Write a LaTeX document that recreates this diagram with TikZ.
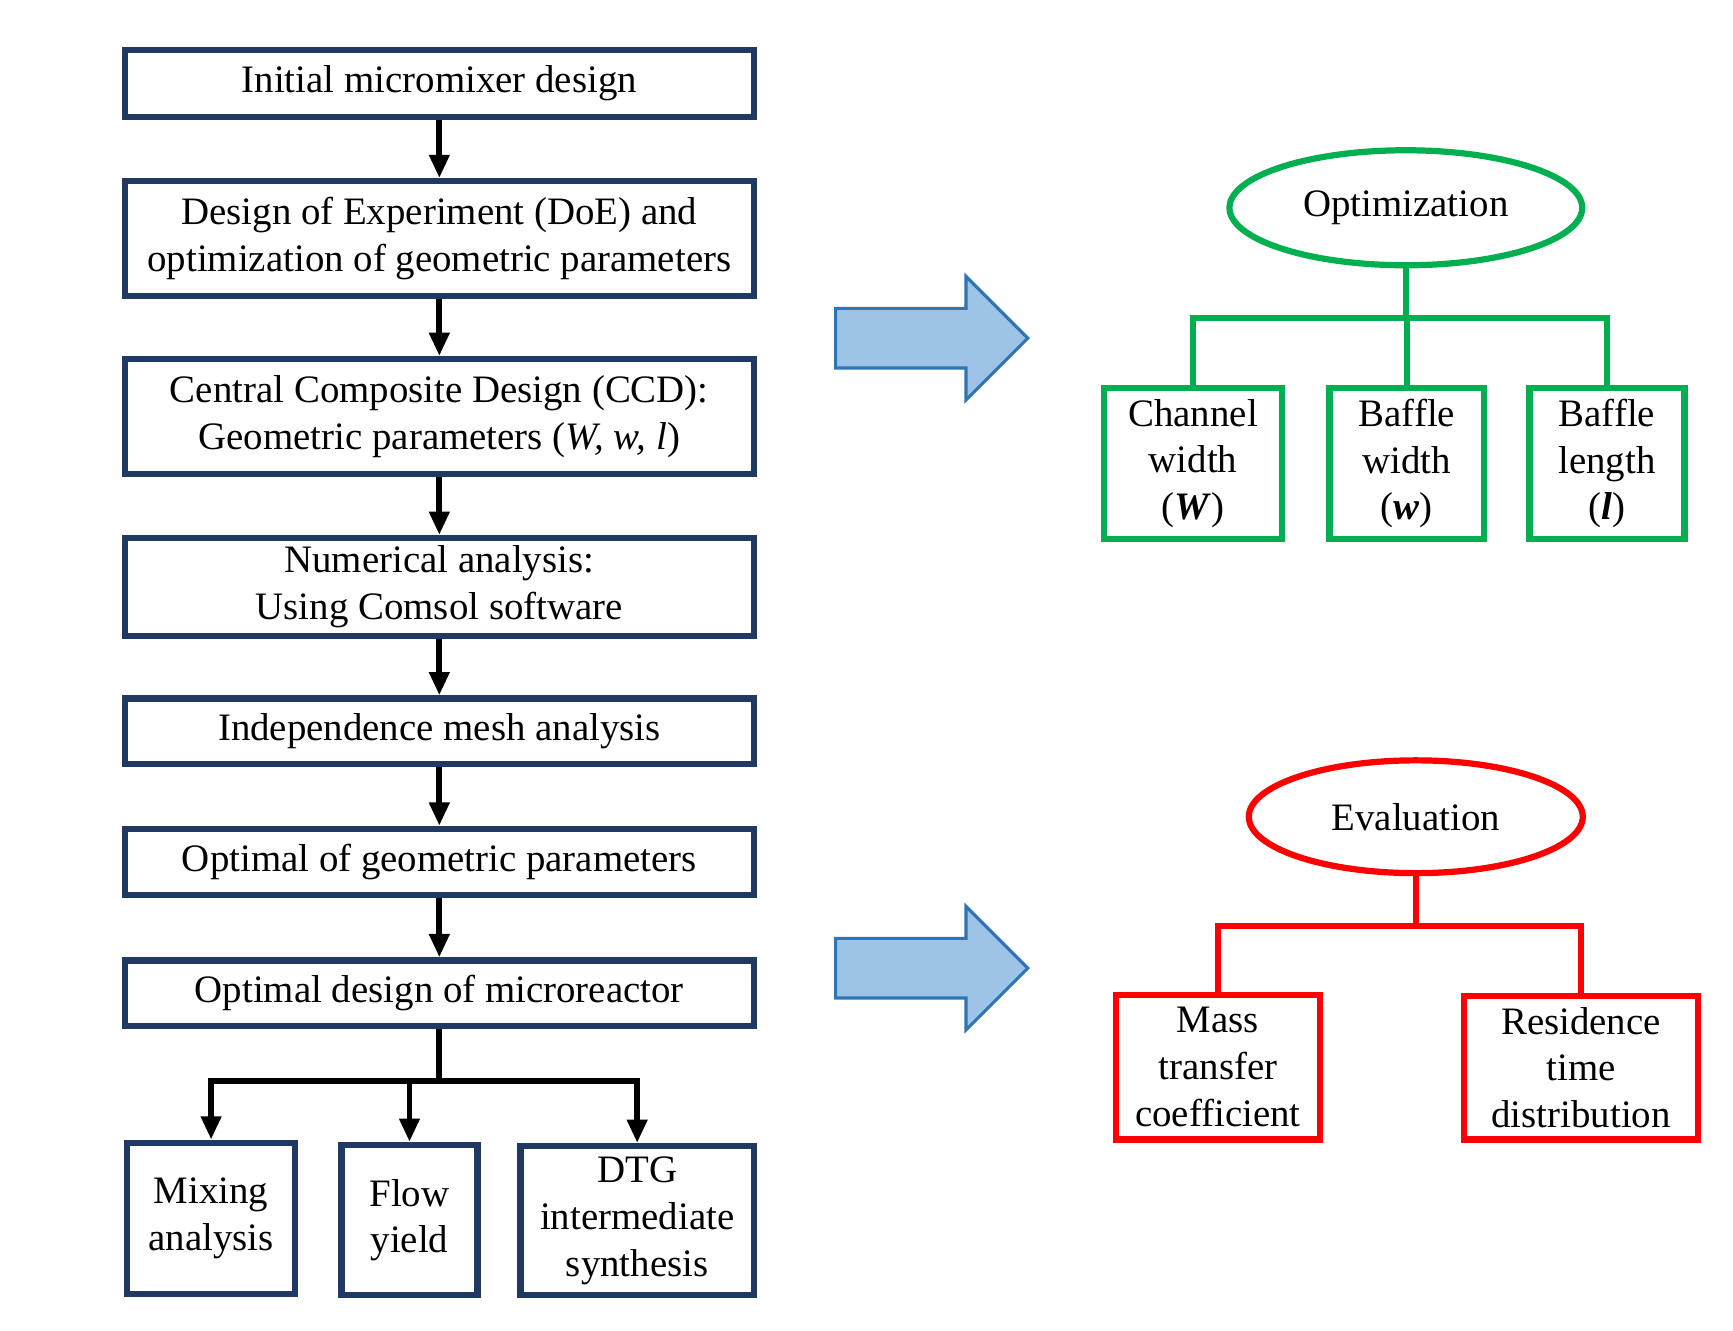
\documentclass[tikz,border=0pt]{standalone}
\usepackage{fontspec}
\setmainfont{Liberation Serif}
\usetikzlibrary{arrows.meta,shapes.geometric}
\definecolor{navyCol}{RGB}{31, 56, 100}
\definecolor{optCol}{RGB}{0, 176, 80}
\definecolor{evalCol}{RGB}{255, 0, 0}
\definecolor{arrowFillCol}{RGB}{157, 195, 230}
\definecolor{arrowEdgeCol}{RGB}{46, 117, 182}

\begin{document}
\begin{tikzpicture}[
    x=0.01cm, y=-0.01cm,
    font=\fontsize{10}{12}\selectfont,
    >={Triangle[width=5pt, length=6pt]},
    stageBox/.style={draw=navyCol, line width=1.6pt, minimum width=5.69cm, align=center, inner sep=2pt},
    resultBox/.style={draw=navyCol, line width=1.6pt, align=center, inner sep=2pt},
    optBox/.style={draw=optCol, line width=1.6pt, align=center, inner sep=2pt},
    evalBox/.style={draw=evalCol, line width=1.6pt, align=center, inner sep=2pt},
    flowArrow/.style={->, line width=1.5pt, draw=black},
    treeLine/.style={line width=1.6pt},
    bigArrow/.style={fill=arrowFillCol, draw=arrowEdgeCol, line width=0.8pt, line join=miter}
]
    \useasboundingbox (0,0) rectangle (1568,1204);

    % ---------------- main flow (left column) ----------------
    \node[stageBox, minimum height=0.61cm] (s1) at (397.5, 75.5) {Initial micromixer design};
    \node[stageBox, minimum height=1.04cm] (s2) at (397.5, 216)
        {Design of Experiment (DoE) and\\optimization of geometric parameters};
    \node[stageBox, minimum height=1.04cm] (s3) at (397.5, 377)
        {Central Composite Design (CCD):\\Geometric parameters (\textit{W, w, l})};
    \node[stageBox, minimum height=0.88cm] (s4) at (397.5, 531)
        {Numerical analysis:\\Using Comsol software};
    \node[stageBox, minimum height=0.59cm] (s5) at (397.5, 661.5) {Independence mesh analysis};
    \node[stageBox, minimum height=0.60cm] (s6) at (397.5, 780) {Optimal of geometric parameters};
    \node[stageBox, minimum height=0.59cm] (s7) at (397.5, 898.5) {Optimal design of microreactor};

    \foreach \a/\b in {s1/s2, s2/s3, s3/s4, s4/s5, s5/s6, s6/s7} {
        \draw[flowArrow] (\a.south) -- (\b.north);
    }

    % ---------------- results (bottom row) ----------------
    \node[resultBox, minimum width=1.52cm, minimum height=1.37cm] (mix) at (191, 1102.5)
        {Mixing\\analysis};
    \node[resultBox, minimum width=1.23cm, minimum height=1.36cm] (flow) at (370.5, 1104)
        {Flow\\yield};
    \node[resultBox, minimum width=2.11cm, minimum height=1.35cm] (dtg) at (576.5, 1104.5)
        {DTG\\intermediate\\synthesis};

    \coordinate (split) at (397.5, 978);
    \draw[treeLine] (s7.south) -- (split);
    \foreach \n in {mix, flow, dtg} {
        \draw[flowArrow] (split) -| (\n.north);
    }

    % ---------------- block arrows ----------------
    \foreach \ay in {306, 876} {
        \draw[bigArrow] (756,\ay-27) -- (874,\ay-27) -- (874,\ay-56) -- (930,\ay)
            -- (874,\ay+56) -- (874,\ay+27) -- (756,\ay+27) -- cycle;
    }

    % ---------------- optimization tree (green) ----------------
    \node[ellipse, draw=optCol, line width=1.6pt, inner sep=0pt,
        minimum width=3.19cm, minimum height=1.04cm] (opt) at (1272, 188) {Optimization};
    \node[optBox, minimum width=1.61cm, minimum height=1.37cm] (chan) at (1079.5, 419.5)
        {Channel\\width\\(\textbf{\textit{W}})};
    \node[optBox, minimum width=1.40cm, minimum height=1.37cm] (bwid) at (1273, 419.5)
        {Baffle\\width\\(\textbf{\textit{w}})};
    \node[optBox, minimum width=1.40cm, minimum height=1.37cm] (blen) at (1454, 419.5)
        {Baffle\\length\\(\textbf{\textit{l}})};

    \coordinate (optSplit) at (1272, 288);
    \draw[treeLine, draw=optCol] (opt.south) -- (optSplit);
    \foreach \n in {chan, bwid, blen} {
        \draw[treeLine, draw=optCol] (optSplit) -| (\n.north);
    }

    % ---------------- evaluation tree (red) ----------------
    \node[ellipse, draw=evalCol, line width=1.6pt, inner sep=0pt,
        minimum width=3.02cm, minimum height=1.02cm] (eval) at (1281, 739) {Evaluation};
    \node[evalBox, minimum width=1.84cm, minimum height=1.31cm] (mass) at (1102, 965.5)
        {Mass\\transfer\\coefficient};
    \node[evalBox, minimum width=2.11cm, minimum height=1.30cm] (rtd) at (1430.5, 966)
        {Residence\\time\\distribution};

    \coordinate (evalSplit) at (1281, 838);
    \draw[treeLine, draw=evalCol] (eval.south) -- (evalSplit);
    \foreach \n in {mass, rtd} {
        \draw[treeLine, draw=evalCol] (evalSplit) -| (\n.north);
    }

\end{tikzpicture}
\end{document}
